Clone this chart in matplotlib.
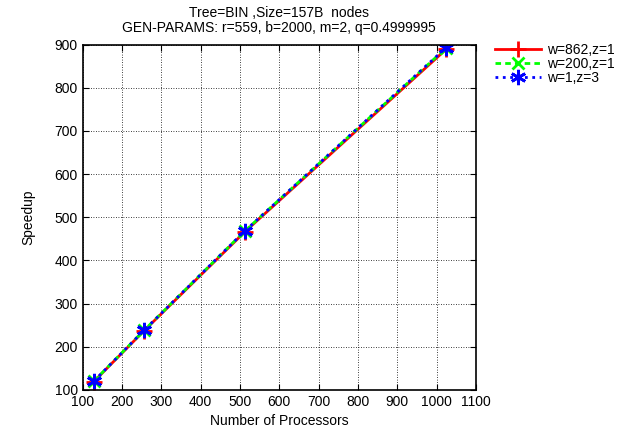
import matplotlib.pyplot as plt
import numpy as np

plt.rcParams['font.family'] = ['Liberation Sans', 'DejaVu Sans']

procs = [128, 256, 512, 1024]
speedup_862 = [119, 237, 466, 889]
speedup_200 = [120, 238, 468, 892]
speedup_1 = [120, 238, 468, 893]
labels = ['w=862,z=1', 'w=200,z=1', 'w=1,z=3']

fig = plt.figure(figsize=(6.27, 4.38), dpi=100)
ax = fig.add_axes([0.132, 0.110, 0.627, 0.788])

ax.plot(procs, speedup_862, '-', color='#ff0000', lw=2, marker='+', ms=12, mew=2, label=labels[0])
ax.plot(procs, speedup_200, '--', color='#00ff00', lw=2, marker='x', ms=9, mew=2, dashes=(2, 1.5), label=labels[1])
ax.plot(procs, speedup_1, ':', color='#0000ff', lw=2, marker=(6, 2, 0), ms=11, mew=2, label=labels[2])

ax.set_xlim(100, 1100)
ax.set_ylim(100, 900)
ax.set_xticks(np.arange(100, 1101, 100))
ax.set_yticks(np.arange(100, 901, 100))
ax.grid(True, color='black', linestyle=(0, (1, 2)), linewidth=0.6)
ax.tick_params(direction='in', top=True, right=True, labelsize=10, length=4)
for s in ax.spines.values():
    s.set_linewidth(1.2)

ax.set_xlabel('Number of Processors', fontsize=10)
ax.set_ylabel('Speedup', fontsize=10, labelpad=14)
ax.set_title('Tree=BIN ,Size=157B  nodes\nGEN-PARAMS: r=559, b=2000, m=2, q=0.4999995',
             fontsize=10, linespacing=1.15, pad=9)

ax.legend(loc='upper left', bbox_to_anchor=(1.035, 1.02), frameon=False, fontsize=10,
          handlelength=3.3, handletextpad=0.4, labelspacing=0.0, borderaxespad=0)

fig.savefig('out.png', dpi=100)
